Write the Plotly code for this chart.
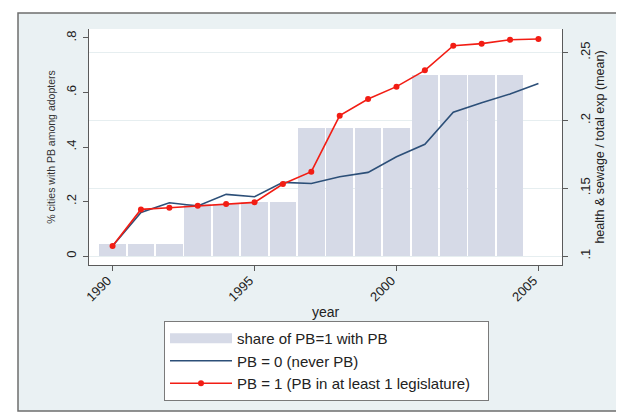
import plotly.graph_objects as go

years = list(range(1990, 2006))
bar_years = list(range(1990, 2005))
share_pb = [0.045, 0.045, 0.045, 0.19, 0.19, 0.20, 0.20, 0.47, 0.47, 0.47, 0.47, 0.665, 0.665, 0.665, 0.665]
pb0 = [0.1074, 0.1322, 0.1393, 0.1369, 0.1455, 0.1437, 0.1543, 0.1535, 0.1585, 0.1617,
       0.1732, 0.1824, 0.2060, 0.2131, 0.2195, 0.2273]
pb1 = [0.1074, 0.1344, 0.1356, 0.1371, 0.1383, 0.1396, 0.1531, 0.1622, 0.2035, 0.2158,
       0.2249, 0.2369, 0.2551, 0.2566, 0.2595, 0.2600]

left_ticks = [0, 0.2, 0.4, 0.6, 0.8]
left_ticktext = ["0", ".2", ".4", ".6", ".8"]
right_ticks = [0.10, 0.15, 0.20, 0.25]
right_ticktext = [".1", ".15", ".2", ".25"]
x_ticks = [1990, 1995, 2000, 2005]

BAR_COL = "#d6dae7"
BLUE = "#2c4f78"
RED = "#f21d14"
AXC = "#5a5a5a"
FONT = "Liberation Sans"
NB = "\u00a0"

fig = go.Figure()
# legend proxy for the bar series (wide swatch)
fig.add_trace(go.Scatter(x=[None], y=[None], mode="lines", name="share of PB=1 with PB",
                         line=dict(color=BAR_COL, width=10), showlegend=True))
fig.add_trace(go.Bar(x=bar_years, y=share_pb, width=0.94, marker=dict(color=BAR_COL, line=dict(width=0)),
                     name="share of PB=1 with PB", showlegend=False, yaxis="y"))
fig.add_trace(go.Scatter(x=years, y=pb0, mode="lines", name="PB = 0 (never PB)",
                         line=dict(color=BLUE, width=1.6), yaxis="y2"))
fig.add_trace(go.Scatter(x=years, y=pb1, mode="lines+markers",
                         name="PB = 1 (PB in at least 1 legislature)" + NB * 3,
                         line=dict(color=RED, width=1.6), marker=dict(color=RED, size=6), yaxis="y2"))

# page has an 8px body margin; figure coordinates = reference coordinates - 8
fig.update_layout(
    width=616, height=409,
    margin=dict(l=81, r=62, t=21, b=152, pad=0, autoexpand=False),
    paper_bgcolor="white", plot_bgcolor="white",
    font=dict(family=FONT, size=12, color="#222"),
    bargap=0,
    shapes=[
        dict(type="rect", xref="paper", yref="paper", x0=-0.1501, x1=1.2, y0=-0.6186, y1=1.0678,
             fillcolor="#eaf1f3", line=dict(color="#6e6e6e", width=1.5), layer="below"),
        dict(type="rect", xref="paper", yref="paper", x0=0, x1=1, y0=0, y1=1,
             fillcolor="white", line=dict(width=0), layer="below"),
    ],
    xaxis=dict(range=[1989.17, 2005.83], tickvals=x_ticks, tickangle=-45, ticks="outside",
               ticklen=5, tickcolor=AXC, showline=True, linecolor=AXC, linewidth=1, showgrid=False,
               zeroline=False, tickfont=dict(size=13, color="#222"), automargin=False,
               ticklabelshift=-5, ticklabelstandoff=-3,
               title=dict(text="year", font=dict(size=14, color="#222"), standoff=3)),
    yaxis=dict(range=[-0.033, 0.833], tickvals=left_ticks, ticktext=left_ticktext, tickangle=-90,
               ticks="outside", ticklen=5, tickcolor=AXC, showline=True, linecolor=AXC, linewidth=1,
               showgrid=False, zeroline=False, tickfont=dict(size=13, color="#222"),
               ticklabelstandoff=2, automargin=False,
               title=dict(text="% cities with PB among adopters", font=dict(size=10.5, color="#333"), standoff=6)),
    yaxis2=dict(range=[0.0934, 0.2674], tickvals=right_ticks, ticktext=right_ticktext, tickangle=-90,
                overlaying="y", side="right", ticks="outside", ticklen=5, tickcolor=AXC,
                showline=True, linecolor=AXC, linewidth=1, showgrid=True, gridcolor="#e6eef0",
                gridwidth=1, zeroline=False, tickfont=dict(size=13, color="#222"),
                ticklabelstandoff=6, automargin=False,
                title=dict(text="health & sewage / total exp (mean)", font=dict(size=12.5, color="#222"), standoff=0)),
    legend=dict(x=(164 - 89) / 473, y=(265 - 321) / 236, xanchor="left", yanchor="top",
                bgcolor="white", bordercolor="#7a7a7a", borderwidth=1,
                font=dict(size=15, color="#222"), itemwidth=62, tracegroupgap=0,
                traceorder="normal"),
)

fig.write_html("out.html")
